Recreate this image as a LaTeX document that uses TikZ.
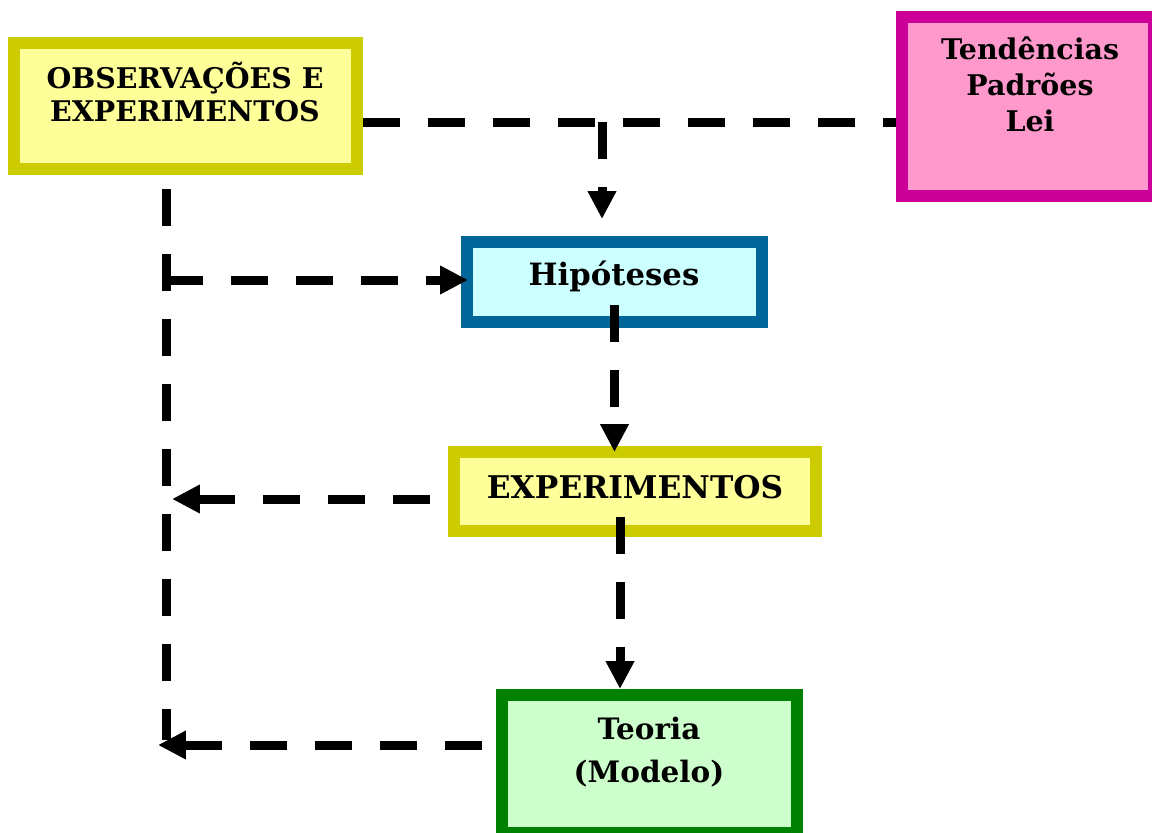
\documentclass[tikz,border=0pt]{standalone}
\usepackage{fontspec}
\setmainfont{DejaVu Serif}
\usetikzlibrary{arrows.meta}
\definecolor{ybord}{HTML}{CCCC00}
\definecolor{yfill}{HTML}{FFFF99}
\definecolor{mbord}{HTML}{CC0099}
\definecolor{mfill}{HTML}{FF99CC}
\definecolor{bbord}{HTML}{006699}
\definecolor{bfill}{HTML}{CCFFFF}
\definecolor{gbord}{HTML}{008000}
\definecolor{gfill}{HTML}{CCFFCC}
\tikzset{
  box/.style={draw, rectangle, line width=0.24cm, inner sep=0pt},
  lbl/.style={align=center, inner sep=0pt},
  dl/.style={line width=0.18cm, dash pattern=on 0.74cm off 0.56cm},
  arr/.style={dl, -{Triangle[length=0.56cm,width=0.54cm]}},
}
\begin{document}
\begin{tikzpicture}[x=0.02cm, y=-0.02cm]
\useasboundingbox (0,0) rectangle (1152,832);
\clip (0,0) rectangle (1152,832);
% boxes
\node[box, draw=ybord, fill=yfill, minimum width=6.86cm, minimum height=2.52cm] (obs) at (185.5,106) {};
\node[box, draw=mbord, fill=mfill, minimum width=5.04cm, minimum height=3.58cm] (tend) at (1028,106.5) {};
\node[box, draw=bbord, fill=bfill, minimum width=5.9cm, minimum height=1.6cm] (hip) at (614.5,282) {};
\node[box, draw=ybord, fill=yfill, minimum width=7.24cm, minimum height=1.58cm] (exp) at (635,491.5) {};
\node[box, draw=gbord, fill=gfill, minimum width=5.9cm, minimum height=2.76cm] (teo) at (649.5,764) {};
% texts
\node[lbl, font=\bfseries\fontsize{16.2}{18.7}\selectfont] (obsT) at (185,92) {OBSERVAÇÕES E\\EXPERIMENTOS};
\node[lbl, font=\bfseries\fontsize{16.2}{20.4}\selectfont] (tendT) at (1030,84) {Tendências\\Padrões\\Lei};
\node[lbl, font=\bfseries\fontsize{17.5}{20}\selectfont] (hipT) at (614,276) {Hipóteses};
\node[lbl, font=\bfseries\fontsize{17.8}{20}\selectfont] (expT) at (635,487) {EXPERIMENTOS};
\node[lbl, font=\bfseries\fontsize{16.8}{24.5}\selectfont] (teoT) at (649,752) {Teoria\\(Modelo)};
% connector coordinates
\coordinate (top) at (602,122);
\coordinate (L1) at (166,189);
\coordinate (L2) at (166,740);
\coordinate (hL) at (166,280);
\coordinate (h1) at (614.5,305);
\coordinate (e1) at (430,499);
\coordinate (e2) at (620,517);
\coordinate (t1) at (482,745);
% connectors
\draw[dl] (obs.east |- top) -- (tend.west |- top);
\draw[arr, shorten >=0.34cm] (top) -- (top |- hip.north);
\draw[dl] (L1) -- (L2);
\draw[arr, shorten >=-0.14cm] (hL) -- (hip.west |- hL);
\draw[arr, shorten >=-0.12cm] (h1) -- (h1 |- exp.north);
\draw[arr, shorten >=0.12cm] (e1) -- (L1 |- e1);
\draw[arr] (e2) -- (e2 |- teo.north);
\draw[arr, shorten >=-0.16cm] (t1) -- (L2 |- t1);
\end{tikzpicture}
\end{document}
